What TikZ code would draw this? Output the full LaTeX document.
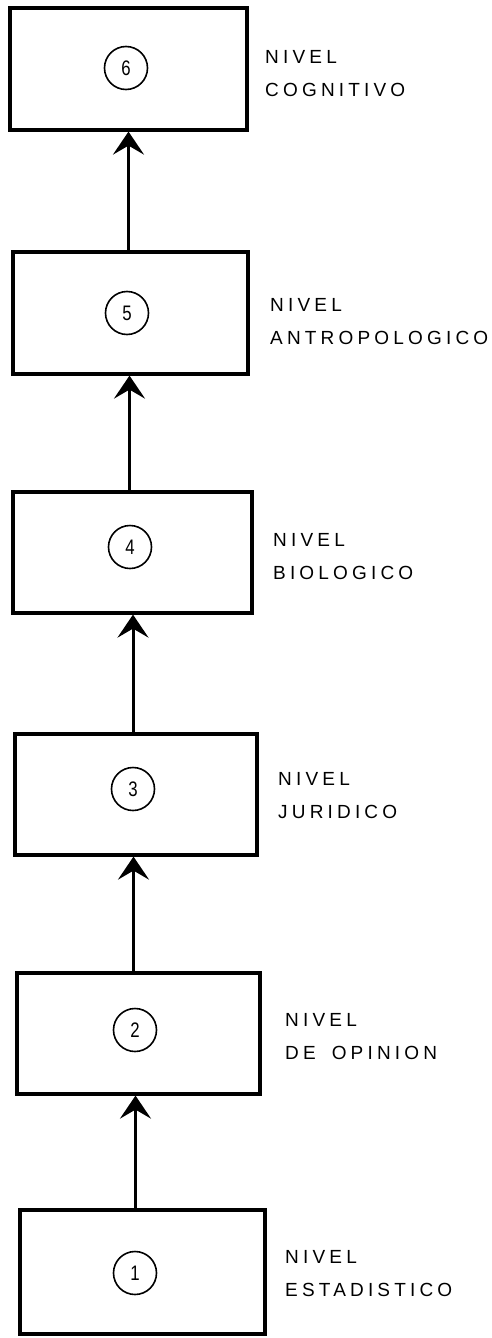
\documentclass[tikz,border=0pt]{standalone}
\usepackage{fontspec}
\setmainfont{Liberation Sans}
\newfontfamily\levelfont[LetterSpace=22]{Liberation Sans}
\usetikzlibrary{arrows.meta}
\begin{document}
\begin{tikzpicture}[x=1pt,y=-1pt,
  levelbox/.style={draw, line width=3.2pt, inner sep=0pt},
  numcirc/.style={draw, circle, line width=1.6pt, minimum size=43pt, inner sep=0pt,
    font=\fontsize{21}{21}\selectfont},
  levellabel/.style={anchor=west, align=left, inner sep=0pt,
    font=\levelfont\fontsize{19}{33}\selectfont},
  uparrow/.style={line width=3pt, -{Stealth[length=23pt,width=31pt,inset=9pt]}}]
\useasboundingbox (0,0) rectangle (491,1338);

% level boxes, bottom (1) to top (6)
\node[levelbox, minimum width=245pt, minimum height=124pt] (b1) at (142.5,1272) {};
\node[levelbox, minimum width=243pt, minimum height=121pt] (b2) at (138.5,1033.5) {};
\node[levelbox, minimum width=242pt, minimum height=121pt] (b3) at (136,794.5) {};
\node[levelbox, minimum width=239pt, minimum height=121pt] (b4) at (132.5,552.5) {};
\node[levelbox, minimum width=235pt, minimum height=122pt] (b5) at (130.5,313) {};
\node[levelbox, minimum width=237pt, minimum height=122pt] (b6) at (128.5,69) {};

% numbered circles
\node[numcirc] (n1) at (135,1273) {\scalebox{0.8}[1]{1}};
\node[numcirc] (n2) at (135,1030) {\scalebox{0.8}[1]{2}};
\node[numcirc] (n3) at (133,789) {\scalebox{0.8}[1]{3}};
\node[numcirc] (n4) at (130,547) {\scalebox{0.8}[1]{4}};
\node[numcirc] (n5) at (127,313) {\scalebox{0.8}[1]{5}};
\node[numcirc] (n6) at (126,68) {\scalebox{0.8}[1]{6}};

% labels beside the boxes
\node[levellabel] (l1) at (285,1274) {NIVEL\\ESTADISTICO};
\node[levellabel] (l2) at (285,1037) {NIVEL\\DE\hspace{16pt}OPINION};
\node[levellabel] (l3) at (278,796) {NIVEL\\JURIDICO};
\node[levellabel] (l4) at (273,557) {NIVEL\\BIOLOGICO};
\node[levellabel] (l5) at (270,322) {NIVEL\\ANTROPOLOGICO};
\node[levellabel] (l6) at (265,74) {NIVEL\\COGNITIVO};

% arrows between consecutive levels
\draw[uparrow] ([xshift=-7pt]b1.north) -- ([xshift=-7pt]b1.north |- b2.south);
\draw[uparrow] ([xshift=-5pt]b2.north) -- ([xshift=-5pt]b2.north |- b3.south);
\draw[uparrow] ([xshift=-3pt]b3.north) -- ([xshift=-3pt]b3.north |- b4.south);
\draw[uparrow] ([xshift=-3pt]b4.north) -- ([xshift=-3pt]b4.north |- b5.south);
\draw[uparrow] ([xshift=-2pt]b5.north) -- ([xshift=-2pt]b5.north |- b6.south);
\end{tikzpicture}
\end{document}
